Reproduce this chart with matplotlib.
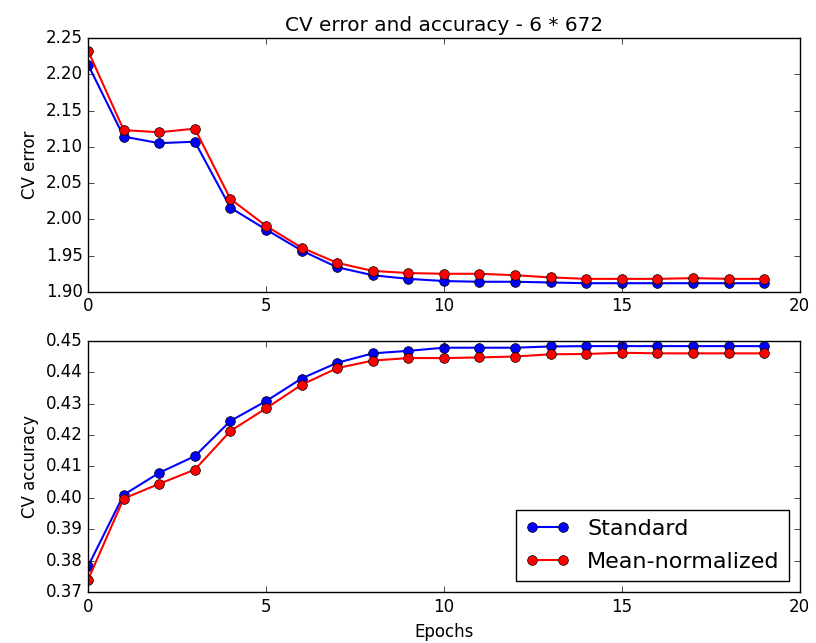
import matplotlib
matplotlib.use("Agg")
import matplotlib.pyplot as plt
from matplotlib.ticker import MultipleLocator

plt.style.use('classic')

epochs = list(range(20))

# CV error
err_standard = [2.213, 2.114, 2.105, 2.107, 2.016, 1.986, 1.957, 1.934, 1.923, 1.918,
                1.915, 1.914, 1.914, 1.913, 1.912, 1.912, 1.912, 1.912, 1.912, 1.912]
err_meannorm = [2.232, 2.123, 2.120, 2.125, 2.028, 1.991, 1.961, 1.940, 1.929, 1.926,
                1.925, 1.925, 1.923, 1.920, 1.918, 1.918, 1.918, 1.919, 1.918, 1.918]

# CV accuracy
acc_standard = [0.3783, 0.4010, 0.4080, 0.4133, 0.4245, 0.4308, 0.4380, 0.4430, 0.4460, 0.4468,
                0.4478, 0.4478, 0.4478, 0.4482, 0.4483, 0.4483, 0.4483, 0.4483, 0.4483, 0.4483]
acc_meannorm = [0.3740, 0.3998, 0.4045, 0.4090, 0.4213, 0.4285, 0.4360, 0.4413, 0.4437, 0.4445,
                0.4445, 0.4447, 0.4450, 0.4457, 0.4458, 0.4462, 0.4460, 0.4460, 0.4460, 0.4460]

fig = plt.figure(figsize=(8.16, 6.43), dpi=100, facecolor='white')
ax1 = fig.add_axes([0.108, 0.546, 0.872, 0.395])
ax2 = fig.add_axes([0.108, 0.079, 0.872, 0.391])

ax1.plot(epochs, err_standard, 'bo-', lw=1.5, ms=7, label='Standard')
ax1.plot(epochs, err_meannorm, 'ro-', lw=1.5, ms=7, label='Mean-normalized')
ax1.set_ylabel('CV error')
ax1.set_title('CV error and accuracy - 6 * 672')
ax1.set_xlim(0, 20)
ax1.set_ylim(1.90, 2.25)

ax2.plot(epochs, acc_standard, 'bo-', lw=1.5, ms=7, label='Standard')
ax2.plot(epochs, acc_meannorm, 'ro-', lw=1.5, ms=7, label='Mean-normalized')
ax2.set_ylabel('CV accuracy')
ax2.set_xlabel('Epochs')
ax2.set_xlim(0, 20)
ax2.set_ylim(0.37, 0.45)
ax2.yaxis.set_major_locator(MultipleLocator(0.01))
ax2.legend(loc='lower right', prop={'size': 16}, labelspacing=0.6)

fig.savefig('out.png', dpi=100, facecolor='white')
